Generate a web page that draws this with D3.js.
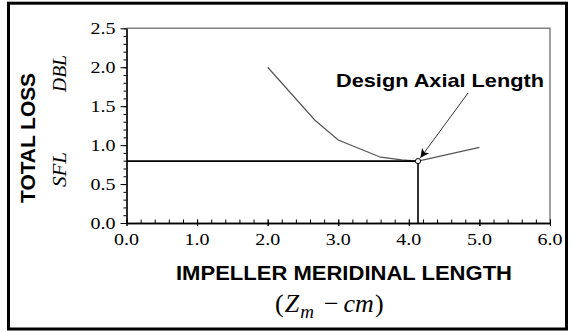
<!DOCTYPE html>
<html><head><meta charset="utf-8">
<script src="https://cdn.jsdelivr.net/npm/d3@7"></script>
<style>
  body { margin: 0; background: #fff; }
  svg { display: block; }
  .serif { font-family: "Liberation Serif", "Times New Roman", serif; }
  .sans { font-family: "Liberation Sans", Arial, sans-serif; font-weight: bold; }
</style>
</head><body>
<script>
// Total loss against impeller meridinal length
const lengthCm  = [2.0, 2.67, 3.0, 3.6, 3.9, 4.13, 5.0];
const totalLoss = [2.0, 1.32, 1.065, 0.845, 0.81, 0.795, 0.97];
const designLength = 4.13;
const designLoss = 0.795;
const xMajorTicks = [0, 1, 2, 3, 4, 5, 6];
const yMajorTicks = [0, 0.5, 1.0, 1.5, 2.0, 2.5];
const xTickLabels = ["0.0", "1.0", "2.0", "3.0", "4.0", "5.0", "6.0"];
const yTickLabels = ["0.0", "0.5", "1.0", "1.5", "2.0", "2.5"];
const annotationLabel = "Design Axial Length";
const annotationFrom = [4.84, 1.67];   // arrow tail, in data units

const W = 573, H = 332;
const svg = d3.select("body").append("svg").attr("width", W).attr("height", H);

// outer frame
svg.append("rect").attr("x", 8.5).attr("y", 3.2).attr("width", 558).attr("height", 325.8)
  .attr("fill", "none").attr("stroke", "#000").attr("stroke-width", 3);

const x = d3.scaleLinear().domain([0, 6]).range([126.5, 550]);
const y = d3.scaleLinear().domain([0, 2.5]).range([223, 28.3]);

// top and right border of the plot box
svg.append("path")
  .attr("d", `M${x(0)},${y(2.5)}H${x(6)}V${y(0)}`)
  .attr("fill", "none").attr("stroke", "#808080").attr("stroke-width", 1.5);

// x axis: minor ticks inside, major ticks across
const gx = svg.append("g").attr("transform", `translate(0,${y(0)})`);
gx.call(d3.axisBottom(x).tickValues(d3.range(0, 6.001, 0.2)).tickSizeInner(-3.5).tickSizeOuter(0).tickFormat(""));
gx.append("g").call(d3.axisBottom(x).tickValues(xMajorTicks).tickSizeInner(3).tickSizeOuter(0).tickFormat(""));
gx.selectAll(".tick line").attr("stroke", "#000");
gx.selectAll(".domain").attr("stroke", "#000").attr("stroke-width", 1.5);
gx.selectAll(".tick").filter(d => xMajorTicks.includes(d)).select("line")
  .attr("y1", -3.5).attr("y2", 3);

svg.append("g").selectAll("text").data(xMajorTicks).join("text")
  .attr("class", "serif")
  .attr("x", d => x(d)).attr("y", y(0) + 22)
  .attr("text-anchor", "middle").attr("font-size", 17).attr("fill", "#000")
  .attr("textLength", 25).attr("lengthAdjust", "spacingAndGlyphs")
  .text((d, i) => xTickLabels[i]);

// y axis: ticks outside
const gy = svg.append("g").attr("transform", `translate(${x(0)},0)`);
gy.call(d3.axisLeft(y).tickValues(d3.range(0, 2.501, 0.1)).tickSizeInner(3).tickSizeOuter(0).tickFormat(""));
gy.append("g").call(d3.axisLeft(y).tickValues(yMajorTicks).tickSizeInner(6).tickSizeOuter(0).tickFormat(""));
gy.selectAll(".tick line").attr("stroke", "#000");
gy.selectAll(".domain").attr("stroke", "#000").attr("stroke-width", 1.2);

svg.append("g").selectAll("text").data(yMajorTicks).join("text")
  .attr("class", "serif")
  .attr("x", x(0) - 11).attr("y", d => y(d)).attr("dy", "0.34em")
  .attr("text-anchor", "end").attr("font-size", 17).attr("fill", "#000")
  .attr("textLength", 25).attr("lengthAdjust", "spacingAndGlyphs")
  .text((d, i) => yTickLabels[i]);

// loss curve
const pts = lengthCm.map((d, i) => [d, totalLoss[i]]);
svg.append("path")
  .attr("d", d3.line().x(d => x(d[0])).y(d => y(d[1]))(pts))
  .attr("fill", "none").attr("stroke", "#555").attr("stroke-width", 1.2);

// design reference lines
svg.append("path")
  .attr("d", `M${x(0)},${y(designLoss)}H${x(designLength)}V${y(0)}`)
  .attr("fill", "none").attr("stroke", "#000").attr("stroke-width", 1.6);

svg.append("circle")
  .attr("cx", x(designLength)).attr("cy", y(designLoss)).attr("r", 2.6)
  .attr("fill", "#fff").attr("stroke", "#000").attr("stroke-width", 1);

// annotation arrow
const defs = svg.append("defs");
defs.append("marker").attr("id", "head").attr("viewBox", "0 0 10 10")
  .attr("refX", 10).attr("refY", 5).attr("markerWidth", 11).attr("markerHeight", 9)
  .attr("markerUnits", "userSpaceOnUse").attr("orient", "auto")
  .append("path").attr("d", "M0,0L10,5L0,10L2.5,5Z").attr("fill", "#000");

const ax0 = x(annotationFrom[0]), ay0 = y(annotationFrom[1]);
const px = x(designLength), py = y(designLoss);
const dx = px - ax0, dy = py - ay0, len = Math.hypot(dx, dy);
svg.append("line")
  .attr("x1", ax0).attr("y1", ay0)
  .attr("x2", px - dx / len * 4).attr("y2", py - dy / len * 4)
  .attr("stroke", "#333").attr("stroke-width", 1)
  .attr("marker-end", "url(#head)");

svg.append("text").attr("class", "sans").attr("x", 336).attr("y", 87)
  .attr("font-size", 19)
  .attr("textLength", 208).attr("lengthAdjust", "spacingAndGlyphs")
  .text(annotationLabel);

// axis titles
svg.append("text").attr("class", "sans").attr("transform", "translate(35,138) rotate(-90)")
  .attr("text-anchor", "middle").attr("font-size", 20)
  .attr("textLength", 130).attr("lengthAdjust", "spacingAndGlyphs")
  .text("TOTAL LOSS");

svg.append("text").attr("class", "serif").attr("transform", "translate(66,73.5) rotate(-90)")
  .attr("text-anchor", "middle").attr("font-style", "italic").attr("font-size", 19)
  .attr("textLength", 37).attr("lengthAdjust", "spacingAndGlyphs")
  .text("DBL");

svg.append("text").attr("class", "serif").attr("transform", "translate(66,169.5) rotate(-90)")
  .attr("text-anchor", "middle").attr("font-style", "italic").attr("font-size", 19)
  .attr("textLength", 35).attr("lengthAdjust", "spacingAndGlyphs")
  .text("SFL");

svg.append("text").attr("class", "sans").attr("x", 176).attr("y", 280)
  .attr("font-size", 20)
  .attr("textLength", 336).attr("lengthAdjust", "spacingAndGlyphs")
  .text("IMPELLER MERIDINAL LENGTH");

const unit = svg.append("text").attr("class", "serif").attr("x", 275).attr("y", 312)
  .attr("font-size", 26);
unit.append("tspan").text("(");
unit.append("tspan").attr("font-style", "italic").attr("dx", 1).text("Z");
unit.append("tspan").attr("font-style", "italic").attr("font-size", 19).attr("dy", 6).attr("dx", 1).text("m");
unit.append("tspan").attr("dy", -6).attr("dx", 10).text("\u2212");
unit.append("tspan").attr("font-style", "italic").attr("dx", 5).text("cm");
unit.append("tspan").attr("dx", 1).text(")");
</script>
</body></html>
